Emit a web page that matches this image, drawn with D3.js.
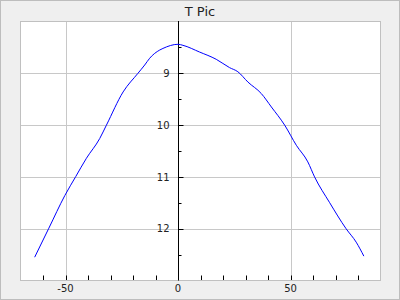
<!DOCTYPE html>
<html>
<head>
<meta charset="utf-8">
<script src="https://cdn.jsdelivr.net/npm/d3@7"></script>
<style>
  body { margin: 0; background: #fff; }
  svg { display: block; font-family: "DejaVu Sans", sans-serif; }
</style>
</head>
<body>
<div id="chart"></div>
<script>
// curve
var xVals = [-63.7, -57.4, -50.3, -45.4, -40.7, -34.8, -31.8, -24.4, -17.8, -14.8, -12.6, -8.1, -6.7, 0, 2.2,
             9.6, 17.0, 22.9, 26.6, 31.1, 37.0, 41.5, 47.4, 52.6, 57.7, 60.7, 67.3, 74.7, 79.2, 82.6];
var yVals = [12.55, 11.99, 11.36, 10.99, 10.64, 10.26, 10.0, 9.36, 9.0, 8.84, 8.71, 8.55, 8.52, 8.44, 8.46,
             8.59, 8.73, 8.89, 8.97, 9.17, 9.39, 9.65, 10.0, 10.39, 10.71, 11.0, 11.49, 12.0, 12.26, 12.53];
var xMajor = [-50, 0, 50];
var xMinor = [-60, -40, -30, -20, -10, 10, 20, 30, 40, 60, 70, 80];
var yMajor = [9, 10, 11, 12];
var yMinor = [8.5, 9.5, 10.5, 11.5, 12.5];
var title = "T Pic";

var W = 400, H = 300;
var pLeft = 20.5, pRight = 380.5, pTop = 21.5, pBottom = 280.5;

var svg = d3.select("#chart").append("svg").attr("width", W).attr("height", H);

svg.append("rect")
  .attr("x", 0.5).attr("y", 0.5).attr("width", W - 1).attr("height", H - 1)
  .style("fill", "#efefef").style("stroke", "#bdbdbd");

var x = d3.scaleLinear().domain([-70, 90]).range([pLeft, pRight]);
var y = d3.scaleLinear().domain([8, 13]).range([pTop, pBottom]);

svg.append("rect")
  .attr("x", pLeft).attr("y", pTop).attr("width", pRight - pLeft).attr("height", pBottom - pTop)
  .style("fill", "#fff");

// grid
svg.selectAll(".gx").data(xMajor).enter().append("line")
  .attr("x1", function(d){ return Math.round(x(d)) + 0.5; })
  .attr("x2", function(d){ return Math.round(x(d)) + 0.5; })
  .attr("y1", pTop).attr("y2", pBottom)
  .style("stroke", "#c8c8c8");
svg.selectAll(".gy").data(yMajor).enter().append("line")
  .attr("y1", function(d){ return Math.round(y(d)) + 0.5; })
  .attr("y2", function(d){ return Math.round(y(d)) + 0.5; })
  .attr("x1", pLeft).attr("x2", pRight)
  .style("stroke", "#c8c8c8");

svg.append("rect")
  .attr("x", pLeft).attr("y", pTop).attr("width", pRight - pLeft).attr("height", pBottom - pTop)
  .style("fill", "none").style("stroke", "#c0c0c0");

// x ticks along the bottom, pointing up
var x0 = Math.round(x(0)) + 0.5;
svg.selectAll(".tx").data(xMajor.concat(xMinor)).enter().append("line")
  .attr("x1", function(d){ return Math.round(x(d)) + 0.5; })
  .attr("x2", function(d){ return Math.round(x(d)) + 0.5; })
  .attr("y1", pBottom - 0.5).attr("y2", pBottom - 5)
  .style("stroke", "#000");
svg.selectAll(".lx").data(xMajor).enter().append("text")
  .attr("x", function(d){ return x(d); })
  .attr("y", 292)
  .attr("text-anchor", "middle")
  .style("font-size", "10px").style("fill", "#222")
  .text(function(d){ return d; });

// y axis sits at x = 0
svg.append("line")
  .attr("x1", x0).attr("x2", x0).attr("y1", pTop - 0.5).attr("y2", pBottom)
  .style("stroke", "#000");
svg.selectAll(".ty").data(yMajor).enter().append("line")
  .attr("y1", function(d){ return Math.round(y(d)) + 0.5; })
  .attr("y2", function(d){ return Math.round(y(d)) + 0.5; })
  .attr("x1", x0).attr("x2", x0 + 5)
  .style("stroke", "#000");
svg.selectAll(".tym").data(yMinor).enter().append("line")
  .attr("y1", function(d){ return Math.round(y(d)) + 0.5; })
  .attr("y2", function(d){ return Math.round(y(d)) + 0.5; })
  .attr("x1", x0).attr("x2", x0 + 3)
  .style("stroke", "#000");
svg.selectAll(".ly").data(yMajor).enter().append("text")
  .attr("x", x0 - 9)
  .attr("y", function(d){ return y(d) + 3.7; })
  .attr("text-anchor", "end")
  .style("font-size", "10px").style("fill", "#222")
  .text(function(d){ return d; });

// curve
var pts = d3.zip(xVals, yVals);
var line = d3.line()
  .x(function(d){ return x(d[0]); })
  .y(function(d){ return y(d[1]); })
  .curve(d3.curveMonotoneX);
svg.append("path")
  .attr("d", line(pts))
  .style("fill", "none").style("stroke", "#0000ff").style("stroke-width", "1px");

svg.append("text")
  .attr("x", 200).attr("y", 16)
  .attr("text-anchor", "middle")
  .style("font-size", "13px").style("fill", "#222")
  .text(title);
</script>
</body>
</html>
